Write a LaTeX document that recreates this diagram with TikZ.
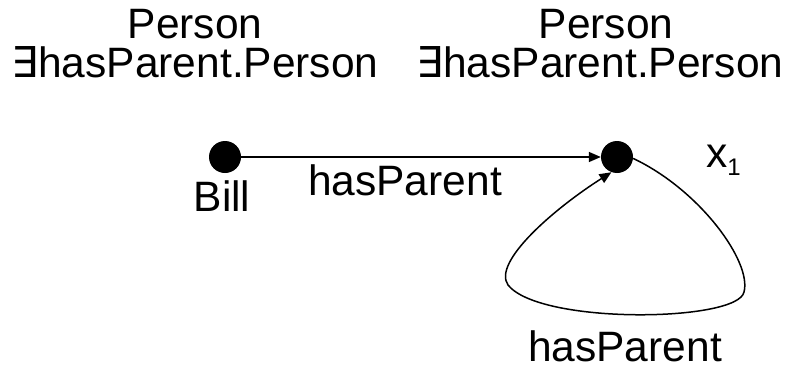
\documentclass[tikz,border=0pt]{standalone}
\usepackage{fontspec}
\setmainfont{Liberation Sans}
\newfontfamily\quantfont{DejaVu Sans}
\usetikzlibrary{positioning,arrows.meta}
\tikzset{
>={Triangle[length=12pt,width=10pt]},
  indiv/.style={
    circle,
    fill=black,
    inner sep=0pt,
    minimum size=32pt},
  lbl/.style={font=\fontsize{42.5}{42.5}\selectfont, inner sep=0pt},
  role/.style={draw, line width=1.5pt, ->},
}

\begin{document}
\begin{tikzpicture}[x=1pt,y=-1pt]
  \useasboundingbox (0,0) rectangle (792,372);
  \node[indiv] (bill) at (225,157) {};
  \node[indiv] (x1) at (617,157) {};

  % concept labels
  \node[lbl, anchor=base] (billC1) at (195,38) {Person};
  \node[lbl, anchor=base] (billC2) at (195,77) {{\quantfont ∃}hasParent.Person};
  \node[lbl, anchor=base] (x1C1) at (606,38) {Person};
  \node[lbl, anchor=base] (x1C2) at (600,77) {{\quantfont ∃}hasParent.Person};

  \node[lbl, anchor=base] (billName) at (222,211) {Bill};
  \node[lbl, anchor=base west] (x1Name) at (706,167) {x\raisebox{-8pt}{\fontsize{24}{24}\selectfont 1}};

  \path[role] (bill) -- (x1);
  \node[lbl, anchor=base] (roleA) at (405,195) {hasParent};

  \path[role] (x1.-5) .. controls (700,190) and (752,262) .. (744,292)
    .. controls (738,322) and (540,325) .. (508,285)
    .. controls (492,262) and (555,208) .. (x1.-110);
  \node[lbl, anchor=base] (roleB) at (625,361) {hasParent};
\end{tikzpicture}
\end{document}
